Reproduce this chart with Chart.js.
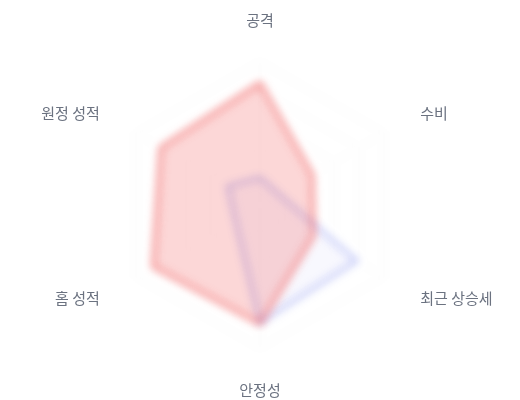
<!DOCTYPE html>
<html>
<head>
<meta charset="utf-8">
<script src="https://cdn.jsdelivr.net/npm/chart.js@4.4.1/dist/chart.umd.min.js"></script>
<style>
  html, body { margin: 0; padding: 0; background: #ffffff; }
  #wrap { width: 520px; height: 400px; position: relative; }
</style>
</head>
<body>
<div id="wrap"><canvas id="c"></canvas></div>
<script>
const categories = ['공격', '수비', '최근 상승세', '안정성', '홈 성적', '원정 성적'];
const teamA = [85, 42, 43, 83, 86, 80];
const teamB = [19, 15, 78, 82, 20, 26];
const seriesNames = ['팀 A', '팀 B'];

const blurPlugin = {
  id: 'blurPlugin',
  beforeDraw(chart) {
    chart.ctx.save();
    chart.ctx.filter = 'blur(4.5px)';
  },
  afterDatasetsDraw(chart) {
    chart.ctx.restore();
  },
  afterDraw(chart) {
    const scale = chart.scales.r;
    const ctx = chart.ctx;
    ctx.save();
    ctx.filter = 'none';
    ctx.font = '15px "Noto Sans CJK KR", "Noto Sans", sans-serif';
    ctx.fillStyle = '#6b7280';
    ctx.textBaseline = 'middle';
    categories.forEach((lab, i) => {
      const p = scale.getPointPosition(i, scale.drawingArea + 42);
      const dx = p.x - scale.xCenter;
      ctx.textAlign = Math.abs(dx) < 1 ? 'center' : (dx > 0 ? 'left' : 'right');
      ctx.fillText(lab, p.x, p.y + 0.5);
    });
    ctx.restore();
  }
};

new Chart(document.getElementById('c'), {
  type: 'radar',
  data: {
    labels: categories,
    datasets: [
      {
        label: seriesNames[0],
        data: teamA,
        borderColor: 'rgba(239, 68, 68, 0.6)',
        backgroundColor: 'rgba(239, 68, 68, 0.21)',
        borderWidth: 4,
        pointRadius: 0
      },
      {
        label: seriesNames[1],
        data: teamB,
        borderColor: 'rgba(110, 125, 235, 0.42)',
        backgroundColor: 'rgba(110, 125, 235, 0.05)',
        borderWidth: 4,
        pointRadius: 0
      }
    ]
  },
  options: {
    responsive: true,
    maintainAspectRatio: false,
    animation: false,
    layout: { padding: { top: 62, bottom: 52, left: 100, right: 100 } },
    plugins: { legend: { display: false }, tooltip: { enabled: false } },
    scales: {
      r: {
        min: 0,
        max: 100,
        ticks: { display: false, stepSize: 20 },
        pointLabels: { display: false },
        grid: { color: 'rgba(0,0,0,0.07)' },
        angleLines: { color: 'rgba(0,0,0,0.07)' }
      }
    }
  },
  plugins: [blurPlugin]
});
</script>
</body>
</html>
